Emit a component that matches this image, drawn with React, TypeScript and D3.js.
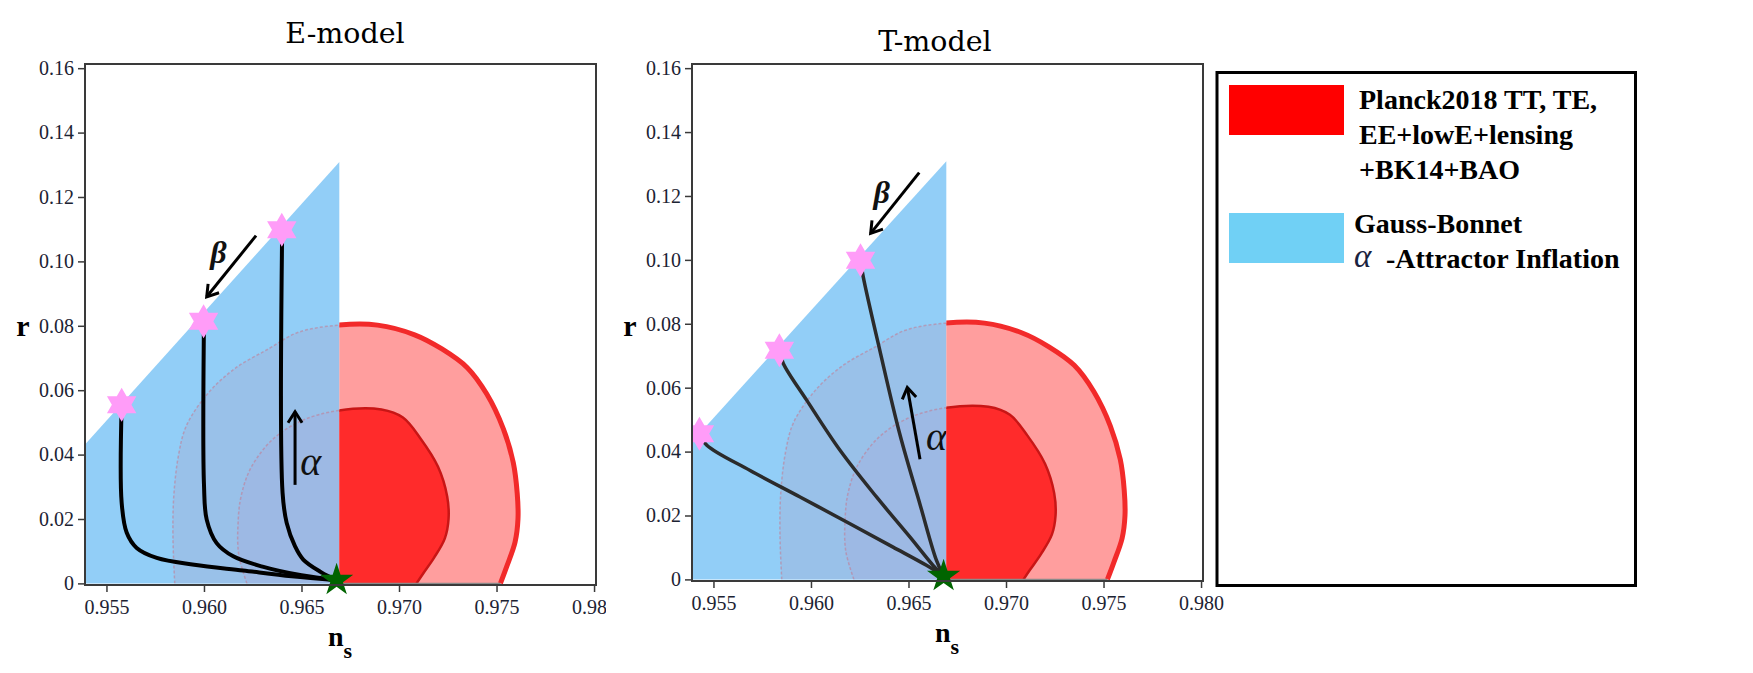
import React, { useRef, useEffect } from 'react';
import * as d3 from 'd3';

// axes
const NS_RANGE = [0.9539, 0.9801];
const R_RANGE = [-0.0005, 0.1613];
const NS_TICKS = [0.955, 0.96, 0.965, 0.97, 0.975, 0.98];
const NS_TICK_LABELS = ['0.955', '0.960', '0.965', '0.970', '0.975', '0.980'];
const R_TICKS = [0, 0.02, 0.04, 0.06, 0.08, 0.1, 0.12, 0.14, 0.16];
const R_TICK_LABELS = ['0', '0.02', '0.04', '0.06', '0.08', '0.10', '0.12', '0.14', '0.16'];

// Planck2018 contours, [ns, r], traced from bottom-left over the top to bottom-right
const OUTER_95 = [
  [0.9585, 0], [0.95841, 0.014], [0.95845, 0.027], [0.9587, 0.040], [0.9591, 0.049],
  [0.9602, 0.059], [0.9616, 0.0668], [0.9633, 0.0728], [0.9648, 0.0779], [0.9669, 0.0802],
  [0.9689, 0.0802], [0.9708, 0.0772], [0.9722, 0.0728], [0.9735, 0.067], [0.9745, 0.0588],
  [0.97535, 0.048], [0.97586, 0.0375], [0.97606, 0.028], [0.9761, 0.02], [0.97595, 0.0128],
  [0.97552, 0.0052], [0.9752, 0],
];
const INNER_68 = [
  [0.9622, 0], [0.96178, 0.009], [0.96175, 0.019], [0.9619, 0.027], [0.9624, 0.0358],
  [0.9635, 0.0446], [0.965, 0.0505], [0.9669, 0.0537], [0.9691, 0.054], [0.9702, 0.0515],
  [0.9711, 0.045], [0.972, 0.0362], [0.97247, 0.027], [0.97254, 0.02], [0.97235, 0.014],
  [0.9718, 0.008], [0.97123, 0.003], [0.9709, 0],
];

// Gauss-Bonnet alpha-attractor region
const GB_REGION = [[0.9539, 0], [0.9539, 0.0431], [0.96694, 0.1309], [0.96694, 0]];
const SPLIT_NS = 0.96694;
const ATTRACTOR = [0.9668, 0.001];

// E-model
const E_STARS = [[0.95578, 0.0555], [0.95998, 0.0814], [0.96399, 0.1098]];
const E_CURVES = [
  [[0.95578, 0.0555], [0.95578, 0.025], [0.95604, 0.0157], [0.95655, 0.011], [0.95758, 0.0079], [0.9595, 0.0058], [0.962, 0.004], [0.9645, 0.0022], [0.9668, 0.001]],
  [[0.96, 0.0814], [0.96, 0.0307], [0.96014, 0.0198], [0.96065, 0.0125], [0.9615, 0.0084], [0.963, 0.0052], [0.965, 0.0025], [0.9668, 0.001]],
  [[0.96401, 0.1098], [0.96403, 0.0281], [0.96424, 0.0188], [0.96467, 0.0115], [0.96509, 0.0074], [0.966, 0.0035], [0.9668, 0.001]],
];
const E_BETA_ARROW = [[0.96267, 0.108], [0.96014, 0.089]];
const E_ALPHA_ARROW = [[0.96467, 0.0306], [0.96467, 0.0533]];
const E_BETA_LABEL = [0.96074, 0.1028];
const E_ALPHA_LABEL = [0.96547, 0.0378];

// T-model
const T_STARS = [[0.95428, 0.0456], [0.95838, 0.0717], [0.96254, 0.0999]];
const T_CURVES = [
  [[0.95428, 0.0456], [0.95466, 0.042], [0.95688, 0.0341], [0.95944, 0.0258], [0.962, 0.0174], [0.96421, 0.0101], [0.96592, 0.0044], [0.9668, 0.001]],
  [[0.95838, 0.0717], [0.95858, 0.0676], [0.95978, 0.0561], [0.96149, 0.0404], [0.96336, 0.0258], [0.96507, 0.0133], [0.96626, 0.0044], [0.9668, 0.001]],
  [[0.96254, 0.0999], [0.96268, 0.0947], [0.96353, 0.0717], [0.96455, 0.0456], [0.96558, 0.0237], [0.96643, 0.006], [0.9668, 0.001]],
];
const T_BETA_ARROW = [[0.96555, 0.1273], [0.96306, 0.1083]];
const T_ALPHA_ARROW = [[0.96559, 0.0376], [0.96494, 0.0601]];
const T_BETA_LABEL = [0.96363, 0.1213];
const T_ALPHA_LABEL = [0.96644, 0.0447];

const LEGEND_RED = ['Planck2018 TT, TE,', 'EE+lowE+lensing', '+BK14+BAO'];
const LEGEND_BLUE = ['Gauss-Bonnet', '-Attractor Inflation'];

const PANELS = [
  {
    key: 'e', title: 'E-model', left: 85, top: 64, width: 511, height: 521, clipRight: 606,
    titleDx: 260, titleY: 43, stars: E_STARS, curves: E_CURVES, curveColor: '#000', curveWidth: 4,
    betaArrow: E_BETA_ARROW, alphaArrow: E_ALPHA_ARROW, betaLabel: E_BETA_LABEL, alphaLabel: E_ALPHA_LABEL,
  },
  {
    key: 't', title: 'T-model', left: 692, top: 64, width: 511, height: 517, clipRight: 1230,
    titleDx: 243, titleY: 51, stars: T_STARS, curves: T_CURVES, curveColor: '#2b2b2b', curveWidth: 3.5,
    betaArrow: T_BETA_ARROW, alphaArrow: T_ALPHA_ARROW, betaLabel: T_BETA_LABEL, alphaLabel: T_ALPHA_LABEL,
  },
];

const SERIF = '"Liberation Serif", "Times New Roman", serif';

function starPath(cx, cy, points, R, ratio) {
  const pts = [];
  for (let k = 0; k < points * 2; k++) {
    const a = -Math.PI / 2 + (k * Math.PI) / points;
    const rad = k % 2 === 0 ? R : R * ratio;
    pts.push([cx + rad * Math.cos(a), cy + rad * Math.sin(a)]);
  }
  return 'M' + pts.map(p => p.join(',')).join('L') + 'Z';
}

function drawArrow(g, x, y, pts) {
  const x1 = x(pts[0][0]), y1 = y(pts[0][1]);
  const x2 = x(pts[1][0]), y2 = y(pts[1][1]);
  g.append('line')
    .attr('x1', x1).attr('y1', y1).attr('x2', x2).attr('y2', y2)
    .attr('stroke', '#000').attr('stroke-width', 3);
  const ang = Math.atan2(y2 - y1, x2 - x1);
  const L = 13, spread = Math.PI / 5.5;
  g.append('path')
    .attr('d', `M${x2 - L * Math.cos(ang - spread)},${y2 - L * Math.sin(ang - spread)}L${x2},${y2}L${x2 - L * Math.cos(ang + spread)},${y2 - L * Math.sin(ang + spread)}`)
    .attr('fill', 'none').attr('stroke', '#000').attr('stroke-width', 3);
}

function drawPanel(svg, defs, p) {
  const x = d3.scaleLinear().domain(NS_RANGE).range([p.left, p.left + p.width]);
  const y = d3.scaleLinear().domain(R_RANGE).range([p.top + p.height, p.top]);

  defs.append('clipPath').attr('id', `panel-${p.key}`)
    .append('rect').attr('x', 0).attr('y', 0).attr('width', p.clipRight).attr('height', 673);
  defs.append('clipPath').attr('id', `plot-${p.key}`)
    .append('rect').attr('x', p.left).attr('y', p.top).attr('width', p.width).attr('height', p.height);
  const poly = d3.line().x(d => x(d[0])).y(d => y(d[1]));
  defs.append('clipPath').attr('id', `gb-${p.key}`)
    .append('path').attr('d', poly(GB_REGION) + 'Z');
  defs.append('clipPath').attr('id', `red-${p.key}`)
    .append('rect').attr('x', x(SPLIT_NS)).attr('y', p.top).attr('width', p.left + p.width - x(SPLIT_NS)).attr('height', p.height);

  const root = svg.append('g').attr('clip-path', `url(#panel-${p.key})`);
  const plot = root.append('g').attr('clip-path', `url(#plot-${p.key})`);

  const smooth = d3.line().x(d => x(d[0])).y(d => y(d[1])).curve(d3.curveCatmullRom.alpha(0.5));

  // blue region
  plot.append('path').attr('d', poly(GB_REGION) + 'Z').attr('fill', '#92CEF7');

  // contours seen through the blue region
  const under = plot.append('g').attr('clip-path', `url(#gb-${p.key})`);
  under.append('path').attr('d', smooth(OUTER_95) + 'Z').attr('fill', '#99C1E9');
  under.append('path').attr('d', smooth(INNER_68) + 'Z').attr('fill', '#9DB9E4');
  [OUTER_95, INNER_68].forEach(c => {
    under.append('path').attr('d', smooth(c)).attr('fill', 'none')
      .attr('stroke', '#C4788E').attr('stroke-width', 1.5).attr('stroke-opacity', 0.55)
      .attr('stroke-dasharray', '3 2');
  });

  // trajectories
  p.curves.forEach(c => {
    plot.append('path').attr('d', smooth(c)).attr('fill', 'none')
      .attr('stroke', p.curveColor).attr('stroke-width', p.curveWidth).attr('stroke-linecap', 'round');
  });

  drawArrow(plot, x, y, p.betaArrow);
  drawArrow(plot, x, y, p.alphaArrow);
  plot.append('text').attr('x', x(p.betaLabel[0])).attr('y', y(p.betaLabel[1]))
    .attr('text-anchor', 'middle').attr('dominant-baseline', 'central')
    .style('font-family', SERIF).style('font-style', 'italic').style('font-weight', 'bold')
    .style('font-size', '32px').attr('fill', '#111').text('β');
  plot.append('text').attr('x', x(p.alphaLabel[0])).attr('y', y(p.alphaLabel[1]))
    .attr('text-anchor', 'middle').attr('dominant-baseline', 'central')
    .style('font-family', SERIF).style('font-style', 'italic')
    .style('font-size', '40px').attr('fill', '#111').text('α');

  // Planck contours, right half
  const red = plot.append('g').attr('clip-path', `url(#red-${p.key})`);
  red.append('path').attr('d', smooth(OUTER_95) + 'Z').attr('fill', '#FF9E9E');
  red.append('path').attr('d', smooth(OUTER_95)).attr('fill', 'none')
    .attr('stroke', '#F22A2A').attr('stroke-width', 5);
  red.append('path').attr('d', smooth(INNER_68) + 'Z').attr('fill', '#FF2B2B');
  red.append('path').attr('d', smooth(INNER_68)).attr('fill', 'none')
    .attr('stroke', '#C81616').attr('stroke-width', 2.5);
  red.append('line')
    .attr('x1', x(SPLIT_NS)).attr('x2', x(OUTER_95[OUTER_95.length - 1][0]))
    .attr('y1', y(0)).attr('y2', y(0))
    .attr('stroke', '#8a8a8a').attr('stroke-width', 1.5);

  // end points
  p.stars.forEach(s => {
    plot.append('path').attr('d', starPath(x(s[0]), y(s[1]), 6, 17, 0.577)).attr('fill', '#FF9CF8');
  });
  root.append('path').attr('d', starPath(x(ATTRACTOR[0]), y(ATTRACTOR[1]), 5, 17.5, 0.382)).attr('fill', '#006400');

  // axes and frame
  const yAxis = root.append('g').attr('transform', `translate(${p.left},0)`)
    .call(d3.axisLeft(y).tickValues(R_TICKS).tickFormat((d, i) => R_TICK_LABELS[i]).tickSize(7).tickPadding(4));
  const xAxis = root.append('g').attr('transform', `translate(0,${p.top + p.height})`)
    .call(d3.axisBottom(x).tickValues(NS_TICKS).tickFormat((d, i) => NS_TICK_LABELS[i]).tickSize(7).tickPadding(8));
  [yAxis, xAxis].forEach(a => {
    a.select('.domain').remove();
    a.selectAll('line').attr('stroke', '#3a3a3a').attr('stroke-width', 1.5);
    a.selectAll('text').style('font-family', SERIF).style('font-size', '20px').attr('fill', '#1c2333');
  });
  root.append('rect').attr('x', p.left).attr('y', p.top).attr('width', p.width).attr('height', p.height)
    .attr('fill', 'none').attr('stroke', '#3a3a3a').attr('stroke-width', 2);

  // labels
  root.append('text').attr('x', p.left + p.titleDx).attr('y', p.titleY).attr('text-anchor', 'middle')
    .style('font-family', '"DejaVu Serif", serif').style('font-size', '28.5px').attr('fill', '#000').text(p.title);
  root.append('text').attr('x', p.left - 62).attr('y', 336).attr('text-anchor', 'middle')
    .style('font-family', SERIF).style('font-weight', 'bold').style('font-size', '30px').text('r');
  const ns = root.append('text').attr('x', p.left + 243).attr('y', p.top + p.height + 61)
    .style('font-family', SERIF).style('font-weight', 'bold').style('font-size', '28px');
  ns.append('tspan').text('n');
  ns.append('tspan').attr('dy', 12).style('font-size', '22px').text('s');
}

function drawLegend(svg) {
  const g = svg.append('g');
  g.append('rect').attr('x', 1217).attr('y', 72.5).attr('width', 418.5).attr('height', 513)
    .attr('fill', '#fff').attr('stroke', '#000').attr('stroke-width', 3);
  g.append('rect').attr('x', 1229).attr('y', 85).attr('width', 115).attr('height', 50).attr('fill', '#FF0000');
  g.append('rect').attr('x', 1229).attr('y', 213).attr('width', 115).attr('height', 50).attr('fill', '#70D0F5');
  LEGEND_RED.forEach((t, i) => {
    g.append('text').attr('x', 1359).attr('y', 109 + i * 35)
      .style('font-family', SERIF).style('font-weight', 'bold').style('font-size', '28px').attr('fill', '#000').text(t);
  });
  g.append('text').attr('x', 1354).attr('y', 233)
    .style('font-family', SERIF).style('font-weight', 'bold').style('font-size', '28px').attr('fill', '#000').text(LEGEND_BLUE[0]);
  g.append('text').attr('x', 1354).attr('y', 267)
    .style('font-family', SERIF).style('font-style', 'italic').style('font-size', '33px').attr('fill', '#1a2340').text('α');
  g.append('text').attr('x', 1386).attr('y', 268)
    .style('font-family', SERIF).style('font-weight', 'bold').style('font-size', '28px').attr('fill', '#000').text(LEGEND_BLUE[1]);
}

export default function App() {
  const ref = useRef(null);

  useEffect(() => {
    const svg = d3.select(ref.current);
    svg.selectAll('*').remove();
    const defs = svg.append('defs');
    PANELS.forEach(p => drawPanel(svg, defs, p));
    drawLegend(svg);
  }, []);

  return (
    <svg
      ref={ref}
      width={1753}
      height={673}
      style={{ position: 'absolute', left: 0, top: 0, display: 'block', background: '#fff' }}
    />
  );
}
